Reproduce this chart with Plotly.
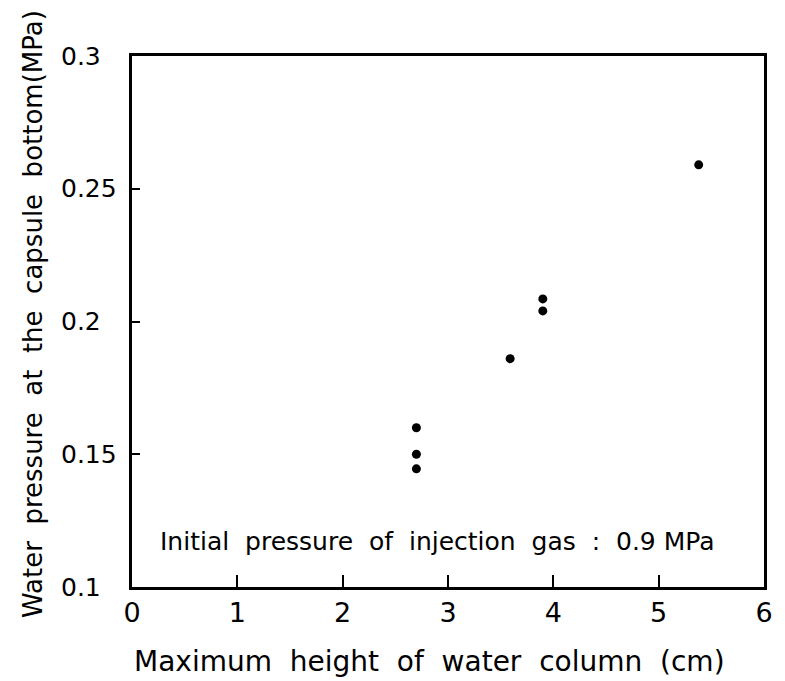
import plotly.graph_objects as go

# Data
height_cm = [2.70, 2.70, 2.70, 3.59, 3.90, 3.90, 5.38]
pressure_mpa = [0.160, 0.150, 0.1445, 0.186, 0.204, 0.2085, 0.259]

x_tick_vals = [0, 1, 2, 3, 4, 5, 6]
x_tick_text = ["0", "1", "2", "3", "4", "5", "6"]
y_tick_vals = [0.1, 0.15, 0.2, 0.25, 0.3]
y_tick_text = ["0.1", "0.15", "0.2", "0.25", "0.3"]

x_title = "Maximum\u00a0 height\u00a0 of\u00a0 water\u00a0 column\u00a0 (cm)"
y_title = "Water\u00a0 pressure\u00a0 at\u00a0 the\u00a0 capsule\u00a0 bottom(MPa)"
note = "Initial\u00a0 pressure\u00a0 of\u00a0 injection\u00a0 gas\u00a0 :\u00a0 0.9 MPa"

FONT = "DejaVu Sans"
W, H = 785, 681
L, R, T, B = 132, 12, 56, 94

fig = go.Figure()
fig.add_trace(go.Scatter(
    x=height_cm, y=pressure_mpa, mode="markers",
    marker=dict(size=9, color="black"),
    showlegend=False, hoverinfo="skip",
))

fig.update_layout(
    width=W, height=H,
    margin=dict(l=L, r=R, t=T, b=B),
    paper_bgcolor="white", plot_bgcolor="white",
    font=dict(family=FONT, color="black"),
    showlegend=False,
)

fig.update_xaxes(
    range=[0, 6], tickvals=x_tick_vals, ticktext=x_tick_text,
    ticks="inside", ticklen=12, tickwidth=2, tickcolor="black",
    showline=True, linewidth=3, linecolor="black", mirror=True,
    showgrid=False, zeroline=False,
    tickfont=dict(family=FONT, size=27, color="black"),
    ticklabelstandoff=0,
)
fig.update_yaxes(
    range=[0.1, 0.3], tickvals=y_tick_vals, ticktext=[""] * len(y_tick_vals),
    ticks="inside", ticklen=8, tickwidth=2, tickcolor="black",
    showline=True, linewidth=3, linecolor="black", mirror=True,
    showgrid=False, zeroline=False,
)

plot_w = W - L - R
# y tick labels (left aligned, as in the reference)
for v, t in zip(y_tick_vals, y_tick_text):
    fig.add_annotation(
        x=(58 - L) / plot_w, xref="paper", y=v, yref="y",
        text=t, showarrow=False, xanchor="left", yanchor="middle",
        font=dict(family=FONT, size=25, color="black"),
    )

# axis titles
fig.add_annotation(
    x=0.47, xref="paper", y=-0.14, yref="paper",
    text=x_title, showarrow=False, xanchor="center", yanchor="middle",
    font=dict(family=FONT, size=28, color="black"),
)
fig.add_annotation(
    x=(31 - L) / plot_w, xref="paper", y=0.515, yref="paper",
    text=y_title, showarrow=False, textangle=-90,
    xanchor="center", yanchor="middle",
    font=dict(family=FONT, size=26, color="black"),
)
# note inside plot
fig.add_annotation(
    x=(158 - L) / plot_w, xref="paper", y=0.085, yref="paper",
    text=note, showarrow=False, xanchor="left", yanchor="middle",
    font=dict(family=FONT, size=25, color="black"),
)

fig.write_html("out.html")
